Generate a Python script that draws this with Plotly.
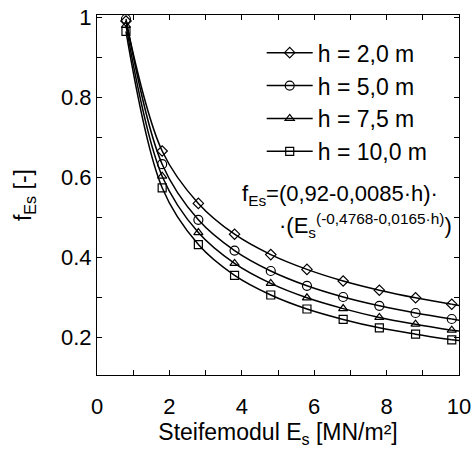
import plotly.graph_objects as go

# Data
Es = [0.8, 1.8, 2.8, 3.8, 4.8, 5.8, 6.8, 7.8, 8.8, 9.8]
f_h20 = [0.99, 0.665, 0.534, 0.457, 0.406, 0.369, 0.340, 0.317, 0.298, 0.282]
f_h50 = [0.995, 0.632, 0.493, 0.416, 0.365, 0.328, 0.300, 0.278, 0.260, 0.245]
f_h75 = [0.979, 0.602, 0.461, 0.384, 0.334, 0.298, 0.271, 0.249, 0.232, 0.217]
f_h100 = [0.964, 0.573, 0.431, 0.354, 0.305, 0.270, 0.244, 0.223, 0.207, 0.193]
Es_end = [9.8, 10.0]
f_end = {
    "h20": [0.282, 0.279],
    "h50": [0.245, 0.242],
    "h75": [0.217, 0.215],
    "h100": [0.193, 0.191],
}
labels = ["h = 2,0 m", "h = 5,0 m", "h = 7,5 m", "h = 10,0 m"]
symbols = ["diamond-open", "circle-open", "triangle-up-open", "square-open"]
sizes = [8, 9, 8, 8]

x_tickvals = list(range(0, 11))
x_ticktext = ["0", "", "2", "", "4", "", "6", "", "8", "", "10"]
y_tickvals = [0.2, 0.3, 0.4, 0.5, 0.6, 0.7, 0.8, 0.9, 1.0]
y_ticktext = ["0.2", "", "0.4", "", "0.6", "", "0.8", "", "1"]

FONT = "Liberation Sans, Arial, sans-serif"
FS = 23

fig = go.Figure()
series = [f_h20, f_h50, f_h75, f_h100]
keys = ["h20", "h50", "h75", "h100"]
for i, (ys, k) in enumerate(zip(series, keys)):
    fig.add_trace(go.Scatter(
        x=Es, y=ys, mode="lines+markers", name=labels[i],
        legendgroup=k,
        line=dict(color="black", width=1.5, shape="spline"),
        marker=dict(symbol=symbols[i], size=sizes[i], color="black",
                    line=dict(color="black", width=1.2)),
    ))
    fig.add_trace(go.Scatter(
        x=Es_end, y=f_end[k], mode="lines", showlegend=False,
        line=dict(color="black", width=1.5),
    ))

fig.update_layout(
    width=472, height=451,
    margin=dict(l=97, r=13, t=15, b=76, autoexpand=False),
    paper_bgcolor="white", plot_bgcolor="white",
    font=dict(family=FONT, size=FS, color="black"),
    showlegend=True,
    legend=dict(
        x=0.455, y=0.955, xanchor="left", yanchor="top",
        bgcolor="rgba(0,0,0,0)", font=dict(size=FS),
        tracegroupgap=0, itemwidth=46,
    ),
    xaxis=dict(
        range=[0, 10], tickvals=x_tickvals, ticktext=x_ticktext,
        ticks="inside", ticklen=5, tickcolor="black", tickwidth=1,
        showline=True, linecolor="black", linewidth=1, mirror="ticks",
        showgrid=False, zeroline=False, automargin=False,
        tickfont=dict(size=FS - 1), ticklabelstandoff=12,
        title=dict(text="Steifemodul E<sub>s</sub> [MN/m²]", font=dict(size=FS), standoff=1),
    ),
    yaxis=dict(
        range=[0.105, 1.005], tickvals=y_tickvals, ticktext=y_ticktext,
        ticks="inside", ticklen=5, tickcolor="black", tickwidth=1,
        showline=True, linecolor="black", linewidth=1, mirror="ticks",
        showgrid=False, zeroline=False, automargin=False,
        tickfont=dict(size=FS - 1),
        title=dict(text="f<sub>Es</sub> [-]", font=dict(size=FS), standoff=22),
    ),
    annotations=[
        dict(x=0.395, y=0.5, xref="paper", yref="paper", xanchor="left", yanchor="middle",
             text="f<sub>Es</sub>=(0,92-0,0085·h)·", showarrow=False, font=dict(size=FS - 1)),
        dict(x=0.497, y=0.414, xref="paper", yref="paper", xanchor="left", yanchor="middle",
             text="·(E<sub>s</sub><sup>(-0,4768-0,0165·h)</sup>)", showarrow=False, font=dict(size=FS - 1)),
    ],
)

fig.write_html("out.html")
